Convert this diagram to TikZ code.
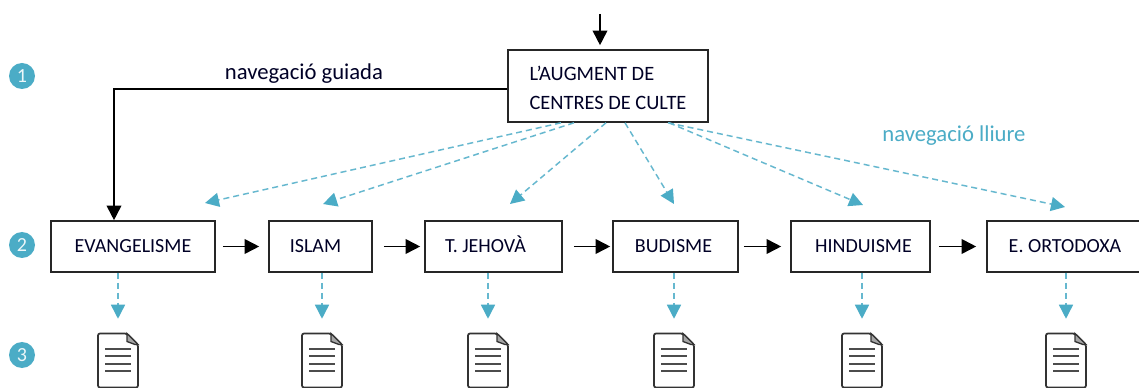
\documentclass[tikz,border=0pt]{standalone}
\usepackage{fontspec}
\setmainfont{Carlito}
\usetikzlibrary{arrows.meta}
\definecolor{teal1}{HTML}{4BACC6}
\newcommand{\uu}{0.75pt}
\tikzset{
  x=0.75pt,y=-0.75pt,
  every node/.style={font=\fontsize{15pt}{18pt}\selectfont,text=black!85!blue},
  bx/.style={draw=black!85,line width=1.2pt,inner sep=0pt,minimum height=51*\uu},
  rowbx/.style={bx,text height=10pt,text depth=0.6pt},
  lbl/.style={font=\fontsize{17pt}{20pt}\selectfont},
  blk/.style={draw=black,line width=1.3pt,-{Triangle[length=11pt,width=11pt]}},
  dsh/.style={draw=teal1!85!white,line width=1.1pt,dash pattern=on 4.5pt off 3pt,-{Triangle[length=10.5pt,width=10.5pt,color=teal1]}},
  num/.style={circle,fill=teal1,minimum size=26*\uu,inner sep=0pt,text=white!90!teal1,font=\fontsize{15pt}{18pt}\selectfont},
  docbox/.style={minimum width=41*\uu,minimum height=55*\uu,inner sep=0pt},
  docicon/.pic={
    \draw[black!80,line width=1.3pt,rounded corners=1.5pt,fill=white] (-20,-27) -- (9,-27) -- (20,-16) -- (20,27) -- (-20,27) -- cycle;
    \draw[black!80,line width=1pt,fill=black!35] (9,-27) -- (9,-19) -- (17,-16) -- (20,-16) -- cycle;
    \foreach \yy in {-11.5,-4,3,10}{\draw[black!70,line width=1.5pt] (-13,\yy) -- (13,\yy);}
  }
}
\begin{document}
\begin{tikzpicture}
\useasboundingbox[clip] (0,0) rectangle (1139,388);
\fill[white] (0,0) rectangle (1139,388);
\node[num] (n1) at (22,76) {1};
\node[num] (n2) at (22,245) {2};
\node[num] (n3) at (22,355) {3};
\node[bx,minimum width=200*\uu,minimum height=72*\uu,align=left,
  font=\fontsize{15.3pt}{21.5pt}\selectfont] (top) at (608,86) {\rule{0pt}{14pt}L'AUGMENT DE\\CENTRES DE CULTE};
\node[rowbx,minimum width=164*\uu] (e1) at (133,246.5) {EVANGELISME};
\node[rowbx,minimum width=103*\uu] (e2) at (320.5,246.5) {ISLAM\hspace*{7.5pt}};
\node[rowbx,minimum width=137*\uu] (e3) at (493.5,246.5) {T. JEHOVÀ\hspace*{12pt}};
\node[rowbx,minimum width=125*\uu] (e4) at (675.5,246.5) {BUDISME\hspace*{3pt}};
\node[rowbx,minimum width=139*\uu] (e5) at (860.5,246.5) {\hspace*{4.5pt}HINDUISME};
\node[rowbx,minimum width=156*\uu] (e6) at (1065,246.5) {E. ORTODOXA};
\node[lbl] (lg) at (304,74) {navegació guiada};
\node[lbl,text=teal1] (ll) at (954,136) {navegació lliure};
\coordinate (in) at (600,14);
\draw[blk,shorten >=4*\uu] (in) -- (top.north -| in);
\coordinate (c) at (114,89);
\draw[blk] (top.west |- c) -- (c) -- (e1.north -| c);
\foreach \a/\b/\p/\q in {e1/e2/7/9,e2/e3/11/4,e3/e4/11/2,e4/e5/5/9,e5/e6/8/10}{
  \draw[blk,shorten <=\p*\uu,shorten >=\q*\uu] (\a.east) -- (\b.west);
}
\coordinate (t1) at (205,203);
\coordinate (t2) at (323,204);
\coordinate (t3) at (510,204);
\coordinate (t4) at (674,204);
\coordinate (t5) at (863,205);
\coordinate (t6) at (1065,207);
\draw[dsh] ([xshift=-47*\uu]top.south) -- (t1);
\draw[dsh] ([xshift=-34*\uu]top.south) -- (t2);
\draw[dsh] ([xshift=-2*\uu]top.south) -- (t3);
\draw[dsh] ([xshift=17*\uu]top.south) -- (t4);
\draw[dsh] ([xshift=61*\uu]top.south) -- (t5);
\draw[dsh] ([xshift=60*\uu]top.south) -- (t6);
\foreach \n/\xx/\e in {1/118/e1,2/322/e2,3/488/e3,4/674/e4,5/862/e5,6/1066/e6}{
  \node[docbox] (d\n) at (\xx,360.5) {};
  \pic at (d\n) {docicon};
  \draw[dsh,shorten >=14*\uu] (d\n |- \e.south) -- (d\n.north);
}
\end{tikzpicture}
\end{document}
